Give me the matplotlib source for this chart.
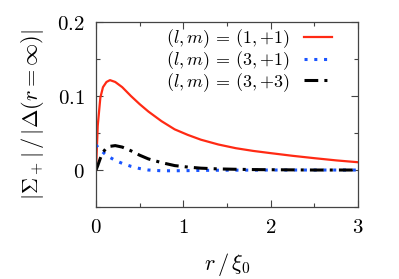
import numpy as np
import matplotlib
matplotlib.use("Agg")
import matplotlib.pyplot as plt
from matplotlib.ticker import MultipleLocator

plt.rcParams['mathtext.fontset'] = 'cm'
plt.rcParams['font.family'] = 'serif'

r = [0, 0.02, 0.05, 0.08, 0.12, 0.16, 0.22, 0.3, 0.4, 0.5, 0.6, 0.75, 0.9,
     1.05, 1.2, 1.4, 1.6, 1.8, 2.0, 2.25, 2.5, 2.75, 3.0]
sig_11 = [0, 0.060, 0.098, 0.112, 0.119, 0.1215, 0.119, 0.112, 0.100, 0.089,
          0.079, 0.066, 0.055, 0.0475, 0.041, 0.0345, 0.0295, 0.0258, 0.0228,
          0.0192, 0.016, 0.013, 0.0105]
sig_31 = [0.034, 0.031, 0.027, 0.024, 0.020, 0.017, 0.013, 0.009, 0.005,
          0.002, 0.0, -0.001, -0.001, -0.0008, -0.0005, -0.0003, -0.0002,
          -0.0001, 0, 0, 0, 0, 0]
sig_33 = [0, 0.006, 0.016, 0.024, 0.030, 0.032, 0.033, 0.031, 0.026, 0.020,
          0.015, 0.010, 0.006, 0.004, 0.0025, 0.0015, 0.001, 0.0006, 0.0004,
          0.0002, 0, 0, 0]

labels = [r'$(l, m)\,=\,(1, {+}1)$', r'$(l, m)\,=\,(3, {+}1)$',
          r'$(l, m)\,=\,(3, {+}3)$']
xticks = [0, 1, 2, 3]
yticks = [0, 0.1, 0.2]
ytick_labels = ['$0$', '$0.1$', '$0.2$']

fig = plt.figure(figsize=(3.99, 2.79), dpi=100)
ax = fig.add_axes([0.2406, 0.258, 0.657, 0.663])

ax.plot(r, sig_11, color='#ff2a14', lw=1.6, label=labels[0])
ax.plot(r, sig_31, color='#1a55ff', lw=2.2, ls=(0, (1, 2.2)), label=labels[1])
ax.plot(r, sig_33, color='black', lw=2.2, ls=(0, (4.5, 2, 1, 2)), label=labels[2])

ax.set_xlim(0, 3)
ax.set_ylim(-0.05, 0.2)
ax.set_xticks(xticks)
ax.set_xticklabels(['$%d$' % v for v in xticks])
ax.set_yticks(yticks)
ax.set_yticklabels(ytick_labels)
ax.xaxis.set_minor_locator(MultipleLocator(0.5))
ax.yaxis.set_minor_locator(MultipleLocator(0.05))
ax.tick_params(which='both', direction='in', top=True, right=True,
               labelsize=15, color='#444444', pad=8)
ax.tick_params(which='major', length=5, width=0.8)
ax.tick_params(which='minor', length=3, width=0.8)
for s in ax.spines.values():
    s.set_color('#444444')
    s.set_linewidth(0.9)

ax.set_xlabel(r'$r\,/\,\xi_0$', fontsize=16, labelpad=10)
ax.set_ylabel(r'$|\Sigma_+|\,/\,|\Delta(r=\infty)|$', fontsize=16, labelpad=8)

ax.legend(loc='upper right', frameon=False, markerfirst=False, fontsize=13,
          handlelength=1.5, handletextpad=0.8, labelspacing=-0.05,
          borderaxespad=0.2, bbox_to_anchor=(0.94, 1.03))

fig.savefig('out.png', dpi=100)
